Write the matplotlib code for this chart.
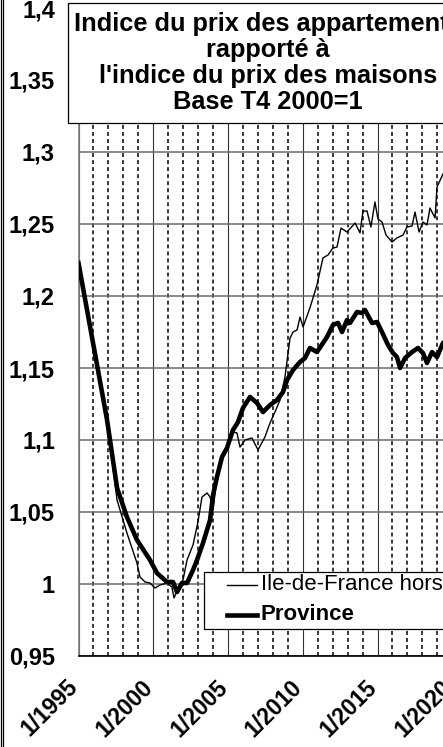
import matplotlib
matplotlib.use("Agg")
import matplotlib.pyplot as plt
from matplotlib.lines import Line2D
from matplotlib.patches import Rectangle
from matplotlib.ticker import MultipleLocator, FixedLocator
from matplotlib.transforms import ScaledTranslation

plt.rcParams['font.family'] = ['Liberation Sans', 'DejaVu Sans']

# Province (trait epais)
prov_t = [1995.00, 1996.91, 1997.58, 1998.24, 1998.91, 1999.78, 2000.25, 2000.92,
          2001.32, 2001.59, 2001.92, 2002.26, 2002.66, 2002.93, 2003.33, 2003.80,
          2004.00, 2004.26, 2004.60, 2004.93, 2005.33, 2005.67, 2006.00, 2006.47,
          2006.94, 2007.34, 2007.81, 2008.28, 2008.68, 2008.95, 2009.35, 2009.82,
          2010.15, 2010.48, 2010.95, 2011.62, 2012.02, 2012.36, 2012.63, 2012.96,
          2013.16, 2013.63, 2013.96, 2014.16, 2014.63, 2014.97, 2015.30, 2015.70,
          2016.04, 2016.30, 2016.51, 2016.84, 2017.31, 2017.71, 2018.04, 2018.31,
          2018.65, 2018.98, 2019.38, 2019.80]
prov_v = [1.2229, 1.1139, 1.0667, 1.0465, 1.0306, 1.0167, 1.0076, 1.0014,
          1.0014, 0.9944, 1.0007, 1.0007, 1.0097, 1.0167, 1.0285, 1.0444,
          1.0618, 1.0743, 1.0882, 1.0944, 1.1069, 1.1125, 1.1222, 1.1299,
          1.1257, 1.1194, 1.1243, 1.1278, 1.1333, 1.1417, 1.1486, 1.1542,
          1.1569, 1.1639, 1.1611, 1.1715, 1.1799, 1.1813, 1.1750, 1.1833,
          1.1813, 1.1889, 1.1882, 1.1903, 1.1813, 1.1819, 1.1750, 1.1660,
          1.1604, 1.1576, 1.1500, 1.1569, 1.1611, 1.1639, 1.1604, 1.1535,
          1.1611, 1.1576, 1.1674, 1.1700]

# Ile-de-France hors Paris (trait fin)
idf_t = [1995.00, 1996.91, 1997.58, 1998.24, 1998.91, 1999.11, 1999.45, 1999.78,
         2000.12, 2000.45, 2000.92, 2001.25, 2001.39, 2001.66, 2001.99, 2002.26,
         2002.66, 2002.99, 2003.26, 2003.60, 2003.80, 2004.00, 2004.26, 2004.60,
         2004.93, 2005.33, 2005.60, 2005.80, 2006.14, 2006.60, 2007.01, 2007.47,
         2007.81, 2008.14, 2008.48, 2008.81, 2009.15, 2009.35, 2009.62, 2009.82,
         2010.02, 2010.48, 2010.95, 2011.35, 2011.69, 2012.02, 2012.29, 2012.56,
         2012.96, 2013.50, 2013.83, 2014.03, 2014.30, 2014.56, 2014.83, 2015.03,
         2015.30, 2015.57, 2015.97, 2016.30, 2016.71, 2016.97, 2017.31, 2017.51,
         2017.78, 2018.04, 2018.31, 2018.51, 2018.85, 2018.98, 2019.38, 2019.80]
idf_v = [1.2229, 1.1139, 1.0583, 1.0354, 1.0146, 1.0049, 1.0014, 1.0007,
         0.9972, 0.9993, 1.0007, 0.9979, 0.9903, 0.9972, 1.0028, 1.0167,
         1.0271, 1.0431, 1.0604, 1.0632, 1.0604, 1.0514, 1.0743, 1.0882,
         1.0944, 1.1056, 1.1049, 1.0951, 1.1000, 1.1014, 1.0931, 1.1021,
         1.1118, 1.1194, 1.1278, 1.1438, 1.1708, 1.1750, 1.1764, 1.1854,
         1.1785, 1.1917, 1.2076, 1.2264, 1.2285, 1.2333, 1.2340, 1.2472,
         1.2444, 1.2507, 1.2438, 1.2590, 1.2590, 1.2479, 1.2653, 1.2535,
         1.2514, 1.2424, 1.2375, 1.2403, 1.2424, 1.2479, 1.2486, 1.2583,
         1.2444, 1.2514, 1.2493, 1.2611, 1.2542, 1.2757, 1.2847, 1.2900]

y_ticks = [0.95, 1.0, 1.05, 1.1, 1.15, 1.2, 1.25, 1.3, 1.35, 1.4]
y_labels = ['0,95', '1', '1,05', '1,1', '1,15', '1,2', '1,25', '1,3', '1,35', '1,4']
x_ticks = [1995, 2000, 2005, 2010, 2015, 2020]
x_labels = ['1/1995', '1/2000', '1/2005', '1/2010', '1/2015', '1/2020']

title = "Indice du prix des appartements\nrapporté à\nl'indice du prix des maisons\nBase T4 2000=1"
serie_idf = 'Ile-de-France hors Paris'
serie_prov = 'Province'

W, H = 443, 747
fig = plt.figure(figsize=(W / 100, H / 100), dpi=100)

# zone de tracé : coupée a droite comme l'original
x0, x1 = 1995, 2021
px_year = 14.95
left_px, bottom_px, top_px = 78.5, 656, 8
ax = fig.add_axes([left_px / W, (H - bottom_px) / H,
                   (x1 - x0) * px_year / W, (bottom_px - top_px) / H])
ax.set_xlim(x0, x1)
ax.set_ylim(0.95, 1.4)

ax.yaxis.set_major_locator(FixedLocator(y_ticks))
ax.set_yticklabels(y_labels, fontsize=17, fontweight='bold')
ax.xaxis.set_major_locator(FixedLocator(x_ticks))
ax.xaxis.set_minor_locator(MultipleLocator(1))
ax.set_xticklabels(x_labels, fontsize=16.5, fontweight='bold', rotation=45, ha='right')
ax.tick_params(axis='y', length=0, pad=17)
ax.tick_params(axis='x', which='both', length=0, pad=14)
decal = ScaledTranslation(0.04, 0, fig.dpi_scale_trans)
for lab in ax.get_xticklabels():
    lab.set_transform(lab.get_transform() + decal)

ax.grid(axis='y', color='#6a6a6a', lw=1.1)
ax.grid(axis='x', which='major', color='#333333', lw=0.8)
ax.grid(axis='x', which='minor', color='black', lw=1.1, ls=(0, (2.6, 2.0)))
ax.set_axisbelow(True)

for s in ['top', 'right']:
    ax.spines[s].set_visible(False)
ax.spines['left'].set_color('#808080')
ax.spines['left'].set_linewidth(1.2)
ax.spines['bottom'].set_color('black')
ax.spines['bottom'].set_linewidth(1.2)

ax.plot(idf_t, idf_v, color='black', lw=1.0, zorder=3)
ax.plot(prov_t, prov_v, color='black', lw=3.3, zorder=4)

# cadre du titre
fig.add_artist(Rectangle((68 / W, (H - 123) / H), 400 / W, 120 / H,
                         transform=fig.transFigure, facecolor='white',
                         edgecolor='black', lw=0.9, zorder=5))
fig.text(268 / W, (H - 63) / H, title, ha='center', va='center',
         multialignment='center', fontsize=18.3, fontweight='bold',
         linespacing=1.12, zorder=6)

# légende
fig.add_artist(Rectangle((204 / W, (H - 629) / H), 260 / W, 57 / H,
                         transform=fig.transFigure, facecolor='white',
                         edgecolor='black', lw=0.9, zorder=5))
fig.add_artist(Line2D([227 / W, 257 / W], [(H - 585) / H] * 2,
                      transform=fig.transFigure, color='black', lw=1.0, zorder=6))
fig.add_artist(Line2D([227 / W, 257 / W], [(H - 615) / H] * 2,
                      transform=fig.transFigure, color='black', lw=3.3, zorder=6))
fig.text(261 / W, (H - 585) / H, serie_idf, ha='left', va='center',
         fontsize=16, zorder=6)
fig.text(261 / W, (H - 615) / H, serie_prov, ha='left', va='center',
         fontsize=16, fontweight='bold', zorder=6)

# double bordure a gauche
for xb in [0.5, 2.8]:
    fig.add_artist(Line2D([xb / W] * 2, [0, 1], transform=fig.transFigure,
                          color='black', lw=0.9))

fig.savefig('out.png', dpi=100)
